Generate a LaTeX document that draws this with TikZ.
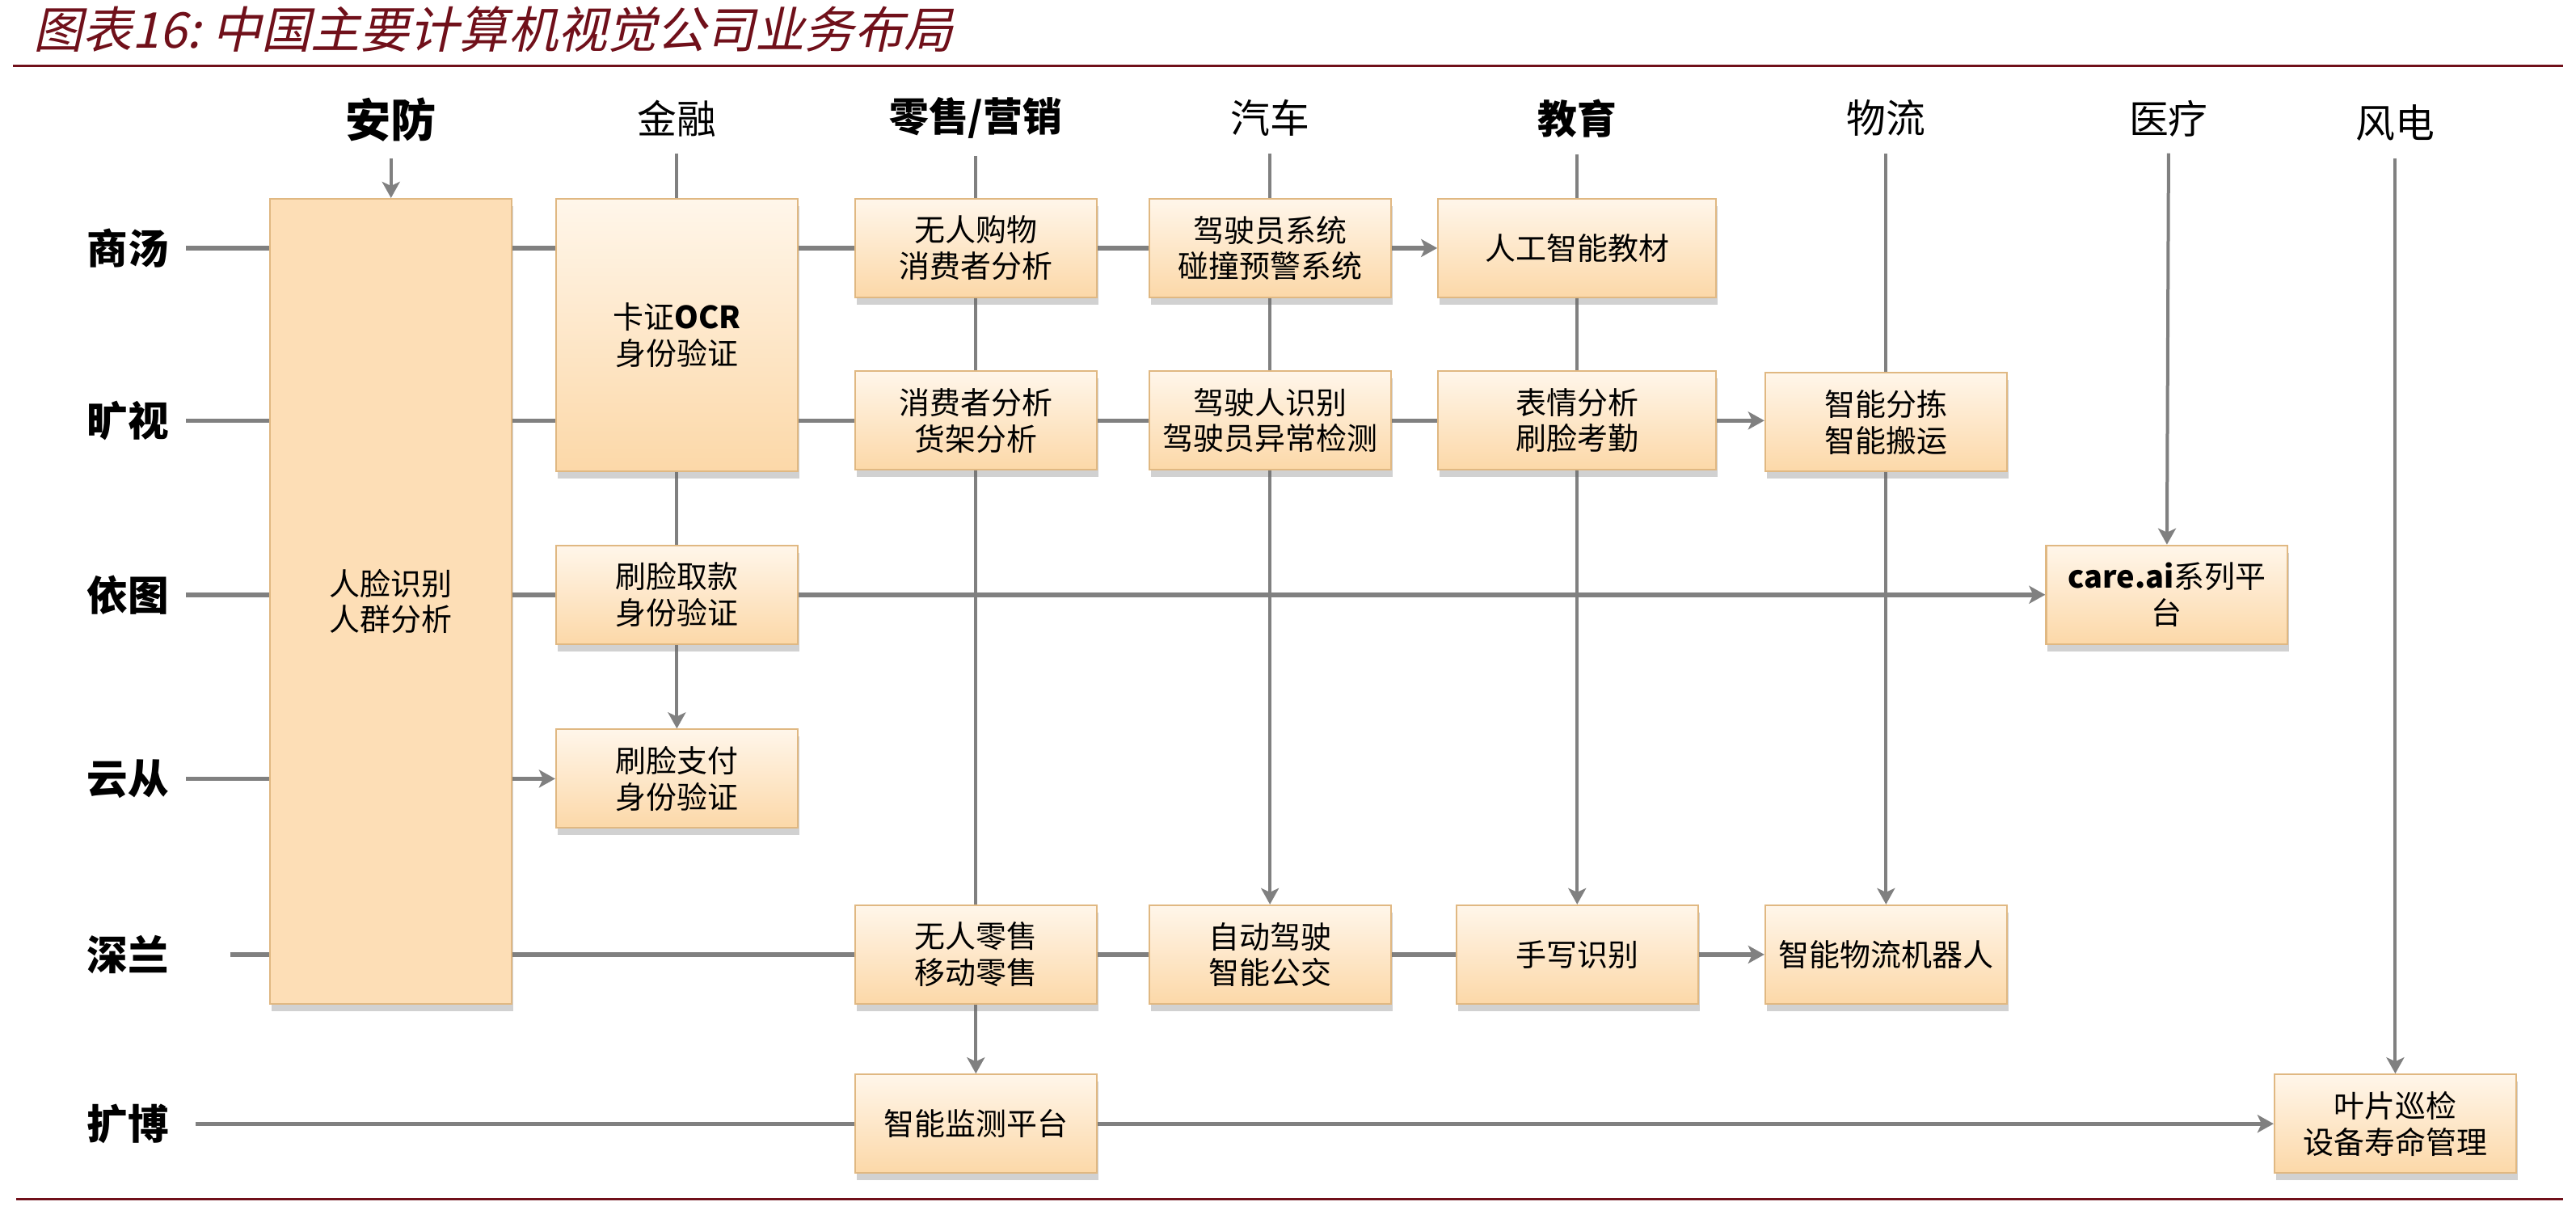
\documentclass[tikz,border=0pt]{standalone}
\usepackage{fontspec}
\setmainfont{Noto Sans CJK SC}
\newfontfamily\titlefont[FakeSlant=0.22]{Noto Sans CJK SC}
\usetikzlibrary{arrows.meta,shadows,backgrounds}
\definecolor{titlered}{RGB}{112,16,26}
\definecolor{linegray}{RGB}{128,128,128}
\definecolor{boxedge}{RGB}{224,184,130}
\definecolor{boxtop}{RGB}{255,246,234}
\definecolor{boxbot}{RGB}{252,216,168}
\definecolor{bigfill}{RGB}{253,222,182}
\begin{document}
\begin{tikzpicture}[x=0.2033mm, y=-0.2033mm,
    basebox/.style={draw=boxedge, line width=0.6pt, inner sep=0pt, align=center,
                  minimum width=29.9mm, minimum height=12.2mm,
                  font=\fontsize{10.8}{12.7}\selectfont,
                  drop shadow={shadow xshift=0.2mm, shadow yshift=-0.9mm, opacity=0.3, fill=black!60}},
    bizbox/.style={basebox, top color=boxtop, bottom color=boxbot},
    bigbox/.style={basebox, fill=bigfill},
    rowname/.style={font=\bfseries\fontsize{14.4}{16}\selectfont, inner sep=2mm},
    colname/.style={font=\fontsize{13.9}{16}\selectfont, inner sep=2mm},
    rowline/.style={draw=linegray, line width=0.55mm},
    colline/.style={draw=linegray, line width=0.4mm},
    arrowend/.style={-{Stealth[length=2mm, width=2.2mm, inset=0.5mm]}}]
              \useasboundingbox (0,0) rectangle (1568,734);
              \node[anchor=west, inner sep=0pt, text=titlered,
                    font=\titlefont\fontsize{17.4}{19}\selectfont] (title) at (20,18)
                    {图表16:\ 中国主要计算机视觉公司业务布局};
              \draw[titlered, line width=0.3mm] (8,40) -- (1560,40);
              \draw[titlered, line width=0.3mm] (10,730) -- (1560,730);
              \node[colname, font=\bfseries\fontsize{16}{18}\selectfont] (af) at (238,73) {安防};
              \node[colname] (jr) at (412,72) {金融};
              \node[colname, font=\bfseries\fontsize{13.9}{16}\selectfont] (ls) at (594,72) {零售/营销};
              \node[colname] (qc) at (773,72) {汽车};
              \node[colname, font=\bfseries\fontsize{13.9}{16}\selectfont] (jy) at (960,72) {教育};
              \node[colname] (wl) at (1148,72) {物流};
              \node[colname] (yl) at (1320,72) {医疗};
              \node[colname] (fd) at (1458,75) {风电};
              \node[rowname] (st) at (78,151) {商汤};
              \node[rowname] (ks) at (78,256) {旷视};
              \node[rowname] (yt) at (78,362) {依图};
              \node[rowname] (yc) at (78,474) {云从};
              \node[rowname] (sl) at (78,581) {深兰};
              \node[rowname] (kb) at (78,684) {扩博};
              \node[bigbox, minimum height=99.6mm] (af1) at (238,366) {人脸识别\\人群分析};
              \node[bizbox, minimum height=33.7mm] (jr1) at (412,204) {卡证\textbf{OCR}\\身份验证};
              \node[bizbox] (jr2) at (412,362) {刷脸取款\\身份验证};
              \node[bizbox] (jr3) at (412,474) {刷脸支付\\身份验证};
              \node[bizbox] (ls1) at (594,151) {无人购物\\消费者分析};
              \node[bizbox] (ls2) at (594,256) {消费者分析\\货架分析};
              \node[bizbox] (ls3) at (594,581) {无人零售\\移动零售};
              \node[bizbox] (ls4) at (594,684) {智能监测平台};
              \node[bizbox] (qc1) at (773,151) {驾驶员系统\\碰撞预警系统};
              \node[bizbox] (qc2) at (773,256) {驾驶人识别\\驾驶员异常检测};
              \node[bizbox] (qc3) at (773,581) {自动驾驶\\智能公交};
              \node[bizbox, minimum width=34.4mm] (jy1) at (960,151) {人工智能教材};
              \node[bizbox, minimum width=34.4mm] (jy2) at (960,256) {表情分析\\刷脸考勤};
              \node[bizbox] (jy3) at (960,581) {手写识别};
              \node[bizbox] (wl1) at (1148,257) {智能分拣\\智能搬运};
              \node[bizbox] (wl2) at (1148,581) {智能物流机器人};
              \node[bizbox] (yl1) at (1319,362) {\textbf{care.ai}系列平\\台};
              \node[bizbox] (fd1) at (1458,684) {叶片巡检\\设备寿命管理};
              \begin{scope}[on background layer]
              \draw[colline, arrowend] (af.south) -- (af1.north);
              \draw[colline, arrowend] (jr.south) -- (jr3.north);
              \draw[colline, arrowend] (ls.south) -- (ls4.north);
              \draw[colline, arrowend] (qc.south) -- (qc3.north);
              \draw[colline, arrowend] (jy.south) -- (jy3.north);
              \draw[colline, arrowend] (wl.south) -- (wl2.north);
              \draw[colline, arrowend] (yl.south) -- (yl1.north);
              \draw[colline, arrowend] (fd.south) -- (fd1.north);
              \draw[rowline, arrowend] (st.east) -- (jy1.west);
              \draw[rowline, arrowend] (ks.east) -- (wl1.west |- ks.east);
              \draw[rowline, arrowend] (yt.east) -- (yl1.west);
              \draw[rowline, arrowend] (yc.east) -- (jr3.west);
              \draw[rowline, arrowend] ([xshift=5.5mm]sl.east) -- (wl2.west);
              \draw[rowline, arrowend] ([xshift=1.2mm]kb.east) -- (fd1.west);
              \end{scope}
          \end{tikzpicture}
\end{document}
